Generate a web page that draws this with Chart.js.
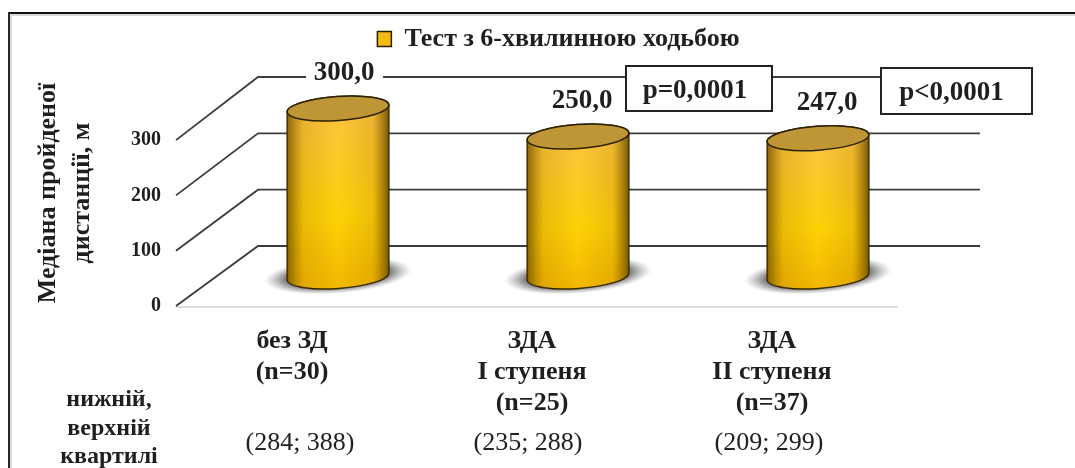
<!DOCTYPE html>
<html lang="uk">
<head>
<meta charset="utf-8">
<script src="https://cdn.jsdelivr.net/npm/chart.js@4"></script>
<style>html,body{margin:0;padding:0;background:#fff}canvas{display:block}</style>
</head>
<body>
<canvas id="c" width="1075" height="468"></canvas>
<script>
const categories = [['без ЗД', '(n=30)'], ['ЗДА', 'І ступеня', '(n=25)'], ['ЗДА', 'ІІ ступеня', '(n=37)']];
const medianDistance = [300, 250, 247];
const quartiles = ['(284; 388)', '(235; 288)', '(209; 299)'];
const gridValues = [0, 100, 200, 300];
const pValues = ['p=0,0001', 'p<0,0001'];
const seriesName = 'Тест з 6-хвилинною ходьбою';
const axisTitle = ['Медіана пройденої', 'дистанції, м'];
const quartileHeading = ['нижній,', 'верхній', 'квартилі'];

const SERIF = '"Liberation Serif", serif';
const INK = '#1f1f1f';
const TILT = -4 * Math.PI / 180;

function topLayer(ctx, draw) { ctx.save(); draw(); ctx.restore(); }

// Soft floor shadow, then the cylinder body with a lit centre and a tilted lid.
function drawCylinder(ctx, el) {
  const cx = el.x, top = el.y, base = el.base, rx = el.width / 2, ry = 12;
  const dx = rx * Math.cos(TILT), dy = rx * Math.sin(TILT);

  ctx.save();
  ctx.translate(cx, base - 1);
  ctx.rotate(-4.5 * Math.PI / 180);
  ctx.scale(74, 18);
  const sh = ctx.createRadialGradient(0, 0, 0, 0, 0, 1);
  sh.addColorStop(0, 'rgba(40,40,40,1)');
  sh.addColorStop(0.6, 'rgba(55,55,55,1)');
  sh.addColorStop(1, 'rgba(140,140,140,0)');
  ctx.fillStyle = sh;
  ctx.beginPath(); ctx.arc(0, 0, 1, 0, Math.PI * 2); ctx.fill();
  ctx.restore();

  const outline = () => {
    ctx.beginPath();
    ctx.moveTo(cx - dx, top - dy);
    ctx.lineTo(cx - dx, base - dy);
    ctx.ellipse(cx, base, rx, ry, TILT, Math.PI, 0, true);
    ctx.lineTo(cx + dx, top + dy);
    ctx.ellipse(cx, top, rx, ry, TILT, 0, Math.PI, true);
    ctx.closePath();
  };
  const v = ctx.createLinearGradient(0, top, 0, base + ry);
  v.addColorStop(0, '#FDC440');
  v.addColorStop(0.6, '#FFD207');
  v.addColorStop(1, '#F3B800');
  outline(); ctx.fillStyle = v; ctx.fill();
  const h = ctx.createLinearGradient(cx - rx, 0, cx + rx, 0);
  h.addColorStop(0, 'rgba(105,75,0,0.8)');
  h.addColorStop(0.16, 'rgba(150,100,0,0.2)');
  h.addColorStop(0.5, 'rgba(150,100,0,0)');
  h.addColorStop(0.84, 'rgba(150,100,0,0.18)');
  h.addColorStop(1, 'rgba(95,70,0,0.85)');
  outline(); ctx.fillStyle = h; ctx.fill();
  ctx.strokeStyle = '#3a2b00'; ctx.lineWidth = 1.4; ctx.stroke();

  ctx.beginPath();
  ctx.ellipse(cx, top, rx, ry, TILT, 0, Math.PI * 2);
  ctx.fillStyle = '#BE9635'; ctx.fill();
  ctx.strokeStyle = '#2b2000'; ctx.lineWidth = 1.5; ctx.stroke();
}

const scene = {
  id: 'scene',
  beforeInit(chart) {
    // The header band has a fixed depth so the plot starts at a known height.
    const legend = chart.legend, fit = legend.fit;
    legend.fit = function () { fit.call(this); this.height = 80; };
  },
  afterLayout(chart) {
    chart.legend.left = 21;
    chart.legend.right = 1096;
  },
  beforeDraw(chart) {
    const { ctx, scales } = chart;
    topLayer(ctx, () => {
      ctx.fillStyle = '#fff'; ctx.fillRect(0, 0, 1075, 468);
      ctx.strokeStyle = '#b5b5b5'; ctx.lineWidth = 1;
      ctx.beginPath(); ctx.moveTo(11, 468); ctx.lineTo(11, 15); ctx.lineTo(1075, 15); ctx.stroke();
      ctx.strokeStyle = '#111'; ctx.lineWidth = 1.8;
      ctx.beginPath(); ctx.moveTo(9, 468); ctx.lineTo(9, 13); ctx.lineTo(1075, 13); ctx.stroke();

      // Floor edge, back-wall gridlines and the receding side-wall strokes.
      ctx.strokeStyle = '#dcdcdc'; ctx.lineWidth = 2;
      ctx.beginPath();
      ctx.moveTo(176, scales.y.getPixelForValue(0) + 1);
      ctx.lineTo(898, scales.y.getPixelForValue(0) + 1);
      ctx.stroke();
      ctx.strokeStyle = '#3c3c3c'; ctx.lineWidth = 1.8;
      gridValues.forEach(val => {
        const front = scales.y.getPixelForValue(val), back = scales.yBack.getPixelForValue(val);
        ctx.beginPath();
        ctx.moveTo(176, front); ctx.lineTo(258, back); ctx.lineTo(980, back);
        ctx.stroke();
      });
    });
  },
  beforeDatasetDraw(chart, args) {
    const { ctx } = chart;
    topLayer(ctx, () => chart.getDatasetMeta(args.index).data.forEach(el => drawCylinder(ctx, el)));
    return false;
  },
  afterDatasetsDraw(chart) {
    const { ctx } = chart;
    const bars = chart.getDatasetMeta(0).data;
    const nudges = [6, 4, 9];
    topLayer(ctx, () => {
      ctx.textAlign = 'center';
      ctx.textBaseline = 'middle';

      // Value labels above each cylinder, with a white plate over the gridline.
      ctx.font = 'bold 27px ' + SERIF;
      bars.forEach((el, i) => {
        const text = medianDistance[i].toFixed(1).replace('.', ',');
        const x = el.x + nudges[i], y = el.y - 35;
        if (i === 0) { ctx.fillStyle = '#fff'; ctx.fillRect(x - 38, y - 14, 77, 26); }
        ctx.fillStyle = INK;
        ctx.fillText(text, x, y);
      });

      // Significance boxes.
      [[626, 66, 146, 45], [881, 68, 151, 46]].forEach((b, i) => {
        ctx.fillStyle = '#fff'; ctx.fillRect(b[0], b[1], b[2], b[3]);
        ctx.strokeStyle = '#222'; ctx.lineWidth = 2; ctx.strokeRect(b[0], b[1], b[2], b[3]);
        ctx.fillStyle = INK;
        ctx.font = 'bold 27px ' + SERIF;
        ctx.fillText(pValues[i], b[0] + b[2] / 2 + (i ? -5 : -4), b[1] + 25);
      });

      // Quartile row under the category labels.
      ctx.font = '26px ' + SERIF;
      ctx.fillStyle = '#222';
      quartiles.forEach((q, i) => ctx.fillText(q, bars[i].x - [38, 50, 49][i], 443));
      ctx.font = 'bold 24px ' + SERIF;
      ctx.fillStyle = INK;
      quartileHeading.forEach((t, i) => ctx.fillText(t, 109, [400, 429, 457][i]));
    });
  }
};

new Chart(document.getElementById('c'), {
  type: 'bar',
  data: {
    labels: categories,
    datasets: [{
      label: seriesName,
      data: medianDistance,
      yAxisID: 'yBar',
      backgroundColor: '#F4BA10',
      borderColor: '#2a2000',
      borderWidth: 1.5,
      barPercentage: 0.85,
      categoryPercentage: 0.5
    }]
  },
  plugins: [scene],
  options: {
    responsive: false,
    animation: false,
    layout: { padding: { left: 0, top: 0, right: 137, bottom: 0 } },
    plugins: {
      tooltip: { enabled: false },
      legend: {
        position: 'top',
        labels: {
          boxWidth: 14,
          boxHeight: 15,
          padding: 26,
          color: INK,
          font: { family: SERIF, size: 26, weight: 'bold' }
        }
      }
    },
    scales: {
      x: {
        grid: { display: false, drawTicks: false },
        border: { display: false },
        afterFit(s) { s.height = 162; },
        ticks: {
          autoSkip: false,
          maxRotation: 0,
          padding: 20,
          labelOffset: -46,
          color: INK,
          font: { family: SERIF, size: 26, weight: 'bold', lineHeight: 1.19 }
        }
      },
      // Front plane of the 3-D box: carries the value axis and its title.
      y: {
        position: 'left',
        min: 0,
        max: 408.7,
        grid: { display: false, drawTicks: false },
        border: { display: false },
        afterBuildTicks(s) { s.ticks = gridValues.map(value => ({ value })); },
        afterFit(s) { s.width = 218; },
        title: {
          display: true,
          text: axisTitle,
          color: INK,
          padding: { top: 31, bottom: 0 },
          font: { family: SERIF, size: 26, weight: 'bold', lineHeight: 1.327 }
        },
        ticks: {
          padding: 57,
          color: INK,
          font: { family: SERIF, size: 20, weight: 'bold' }
        }
      },
      // Middle plane, where the cylinders stand.
      yBar: { display: false, min: -52.68, max: 350.9 },
      // Back wall, where the gridlines run.
      yBack: { display: false, min: -106.5, max: 294.7 }
    }
  }
});
</script>
</body>
</html>
